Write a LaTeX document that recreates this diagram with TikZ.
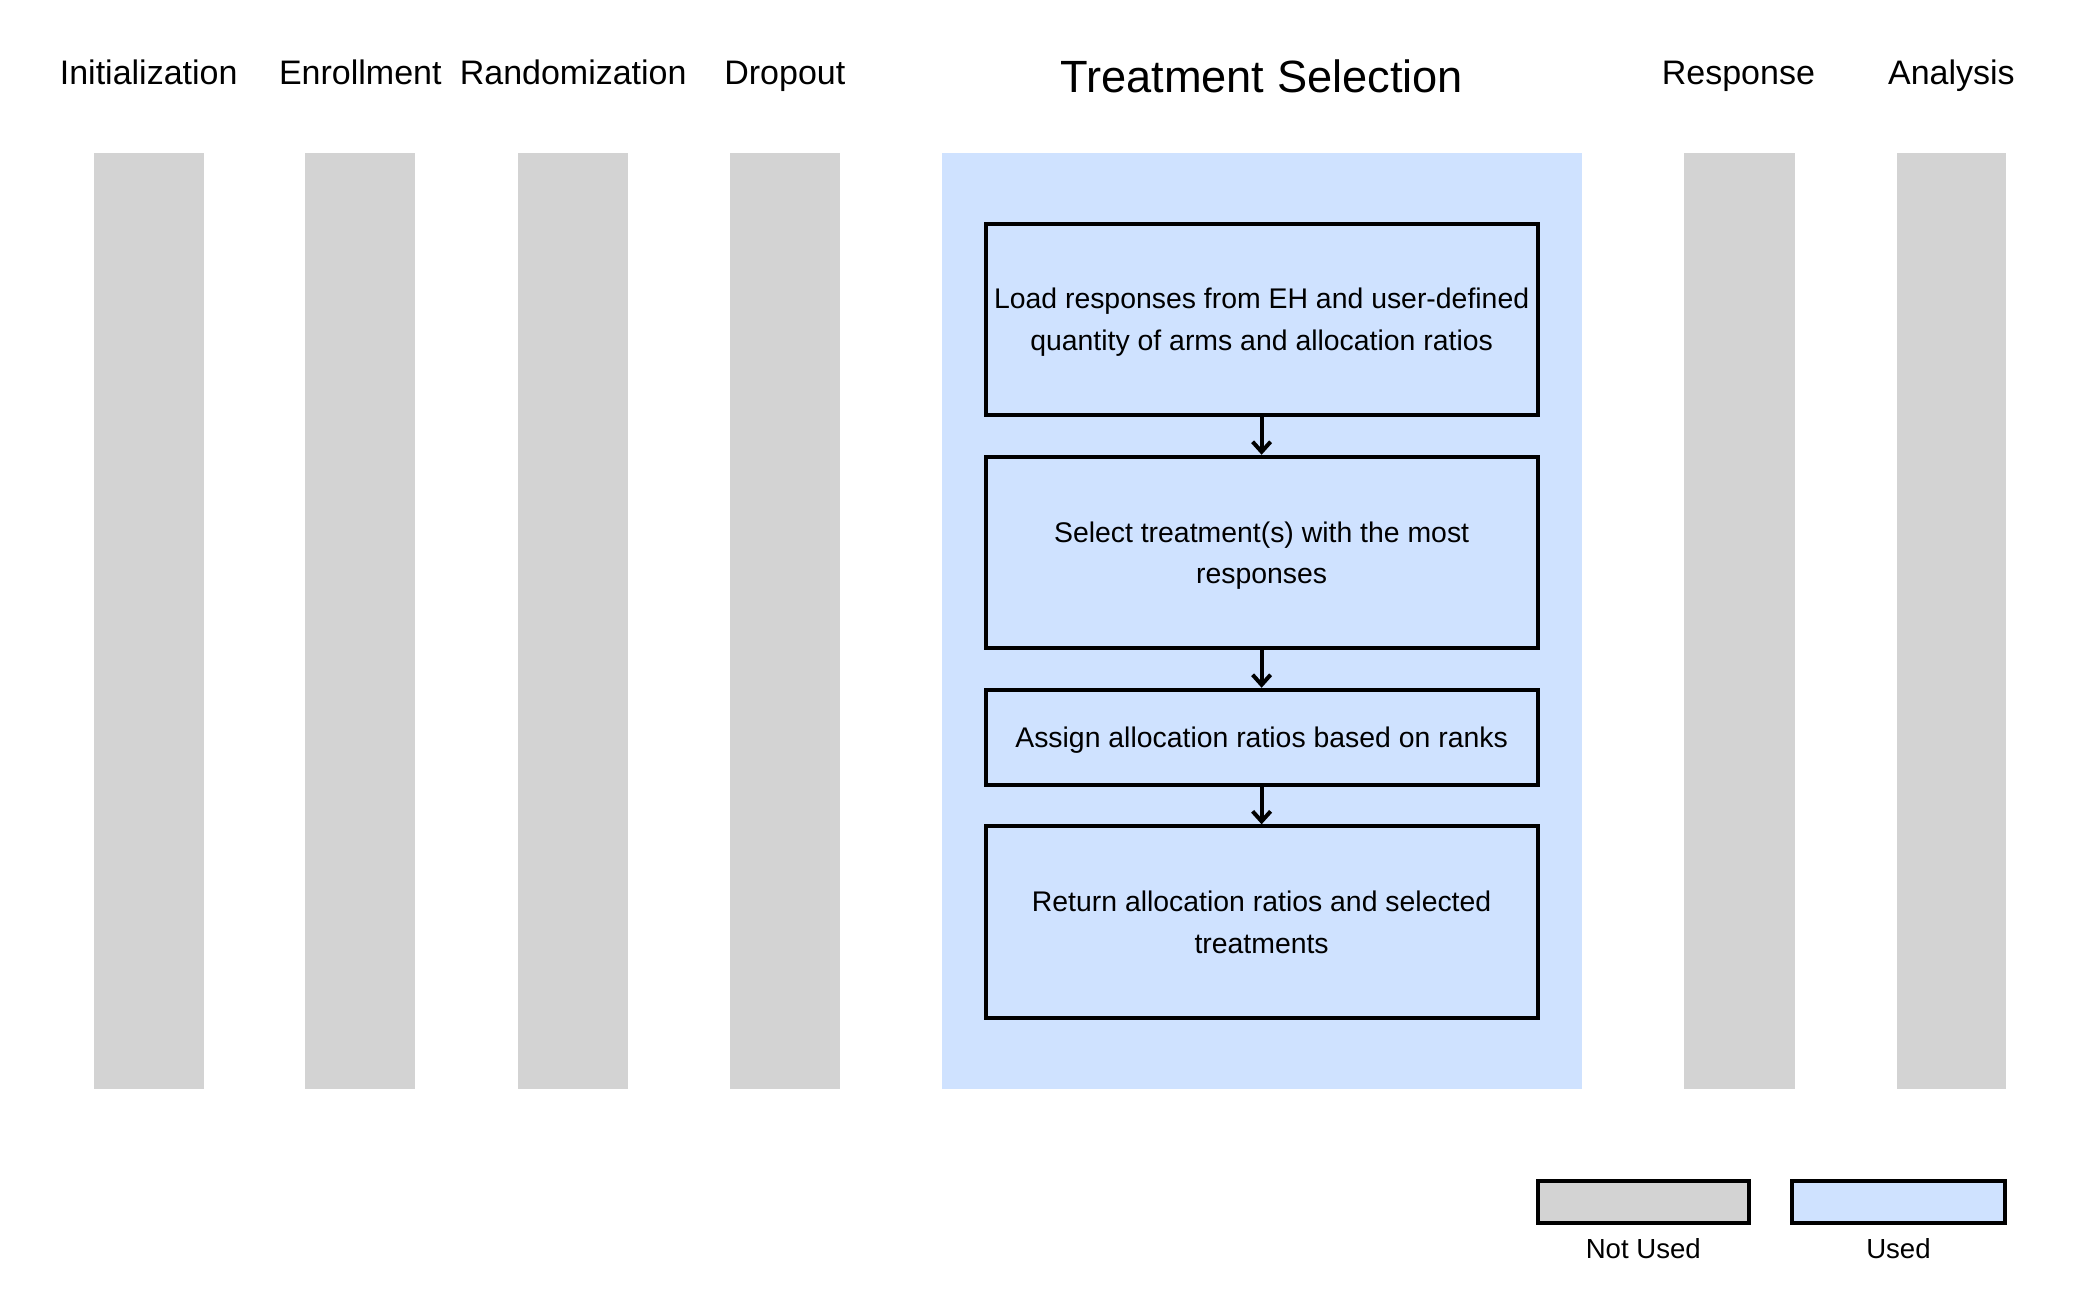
\documentclass[tikz,border=0pt]{standalone}
\usepackage{fontspec}
\setmainfont{Liberation Sans}
\usetikzlibrary{arrows.meta}
\definecolor{unused}{RGB}{211,211,211}
\definecolor{used}{RGB}{207,226,255}
\begin{document}
\begin{tikzpicture}[x=0.5pt,y=-0.5pt,
  bar/.style={fill=unused,draw=none},
  band/.style={fill=used,draw=none},
  stagelbl/.style={font=\fontsize{17}{20}\selectfont,anchor=base},
  stepbox/.style={draw=black,line width=2pt,fill=used,align=center,font=\fontsize{14.2}{20.8}\selectfont,inner sep=0pt,text depth=0pt},
  flow/.style={draw=black,line width=2pt,-{Straight Barb[length=5pt,width=9pt,line width=2pt]}},
  legbox/.style={draw=black,line width=2pt,inner sep=0pt},
  leglbl/.style={font=\fontsize{13.8}{16}\selectfont}]
\useasboundingbox (0,0) rectangle (2100,1297);
\fill[white] (0,0) rectangle (2100,1297);
% bars
\fill[bar] (93.8,152.7) rectangle (203.6,1088.8);
\fill[bar] (305.4,152.7) rectangle (415.2,1088.8);
\fill[bar] (518.3,152.7) rectangle (628.1,1088.8);
\fill[bar] (729.9,152.7) rectangle (839.7,1088.8);
\fill[band] (941.5,152.7) rectangle (1581.7,1088.8);
\fill[bar] (1683.5,152.7) rectangle (1794.7,1088.8);
\fill[bar] (1896.5,152.7) rectangle (2006.3,1088.8);
% titles
\node[stagelbl] (t1) at (148.7,84.7) {Initialization};
\node[stagelbl] (t2) at (360.3,84.7) {Enrollment};
\node[stagelbl] (t3) at (573.2,84.7) {Randomization};
\node[stagelbl] (t4) at (784.8,84.7) {Dropout};
\node[font=\fontsize{22.6}{26}\selectfont] (t5) at (1261.6,76.3) {Treatment Selection};
\node[stagelbl] (t6) at (1738.4,84.7) {Response};
\node[stagelbl] (t7) at (1951.4,84.7) {Analysis};
% boxes
\node[stepbox,minimum width=551.8*0.5pt,minimum height=191.5*0.5pt] (b1) at (1261.6,319.5) {Load responses from EH and user-defined\\quantity of arms and allocation ratios};
\node[stepbox,minimum width=551.8*0.5pt,minimum height=191.5*0.5pt] (b2) at (1261.6,552.5) {Select treatment(s) with the most\\responses};
\node[stepbox,minimum width=551.8*0.5pt,minimum height=95.1*0.5pt] (b3) at (1261.6,737.3) {Assign allocation ratios based on ranks};
\node[stepbox,minimum width=551.8*0.5pt,minimum height=191.6*0.5pt] (b4) at (1261.6,922.1) {Return allocation ratios and selected\\treatments};
\draw[flow] (b1.south) -- (b2.north);
\draw[flow] (b2.south) -- (b3.north);
\draw[flow] (b3.south) -- (b4.north);
% legend
\node[legbox,fill=unused,minimum width=211.6*0.5pt,minimum height=41.5*0.5pt] (l1) at (1643.3,1202.05) {};
\node[legbox,fill=used,minimum width=212.9*0.5pt,minimum height=41.5*0.5pt] (l2) at (1898.45,1202.05) {};
\node[leglbl] (l1t) at (1643.3,1248.2) {Not Used};
\node[leglbl] (l2t) at (1898.45,1248.2) {Used};
\end{tikzpicture}
\end{document}
